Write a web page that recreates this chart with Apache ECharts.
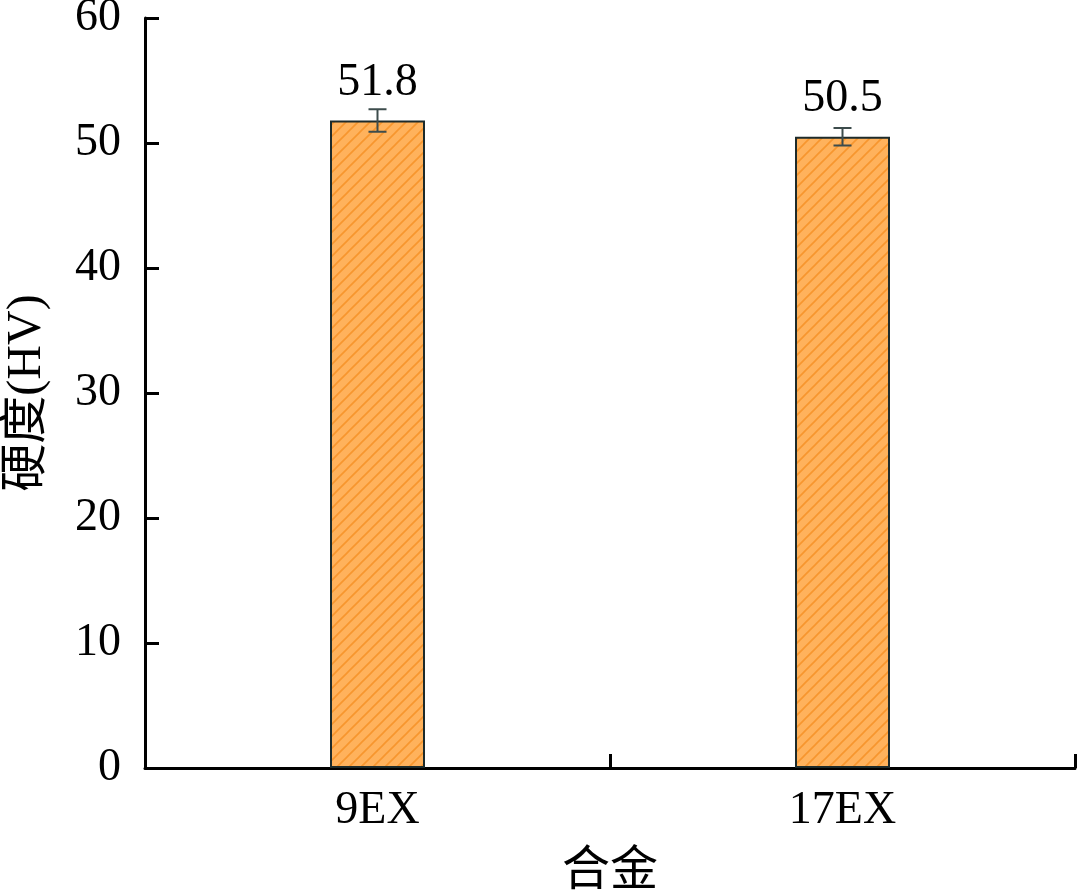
<!DOCTYPE html>
<html><head><meta charset="utf-8">
<script src="https://cdn.jsdelivr.net/npm/echarts@6/dist/echarts.min.js"></script>
<style>html,body{margin:0;padding:0;background:#fff}#c{width:1078px;height:895px}</style>
</head><body><div id="c"></div>
<script>
const categories = ['9EX', '17EX'];
const hardness = [51.8, 50.5];
const errors = [0.9, 0.7];
const yTicks = [0, 10, 20, 30, 40, 50, 60];

const pc = document.createElement('canvas');
pc.width = 12; pc.height = 12;
const g = pc.getContext('2d');
g.fillStyle = '#FFB25C'; g.fillRect(0,0,12,12);
g.strokeStyle = '#F7962E'; g.lineWidth = 1.6;
g.beginPath();
g.moveTo(-1,13); g.lineTo(13,-1);
g.moveTo(-7,7); g.lineTo(7,-7);
g.moveTo(5,19); g.lineTo(19,5);
g.stroke();

const font = 'Times New Roman, Liberation Serif, serif';
const cjkFont = 'Times New Roman, Liberation Serif, Noto Sans CJK SC';
const chart = echarts.init(document.getElementById('c'));
chart.setOption({
  animation: false,
  grid: {left: 145, top: 18, right: 3, bottom: 127, containLabel: false, outerBoundsMode: 'none'},
  xAxis: {
    type: 'category', data: categories,
    name: '合金', nameLocation: 'middle', nameGap: 80,
    nameTextStyle: {fontFamily: cjkFont, fontSize: 48, color: '#000'},
    axisLine: {lineStyle: {color: '#000', width: 3}},
    axisTick: {show: true, inside: true, length: 14, lineStyle: {color: '#000', width: 3}},
    axisLabel: {fontFamily: font, fontSize: 46, color: '#000', margin: 20}
  },
  yAxis: {
    type: 'value', min: yTicks[0], max: yTicks[yTicks.length-1], interval: 10,
    name: '硬度(HV)', nameLocation: 'middle', nameGap: 94,
    nameTextStyle: {fontFamily: cjkFont, fontSize: 48, color: '#000'},
    axisLine: {show: true, lineStyle: {color: '#000', width: 3}},
    axisTick: {show: true, inside: true, length: 14, lineStyle: {color: '#000', width: 3}},
    axisLabel: {fontFamily: font, fontSize: 46, color: '#000', margin: 24},
    splitLine: {show: false}
  },
  series: [
    {
      type: 'bar', data: hardness, barWidth: 95,
      itemStyle: {color: {image: pc, repeat: 'repeat'}, borderColor: '#1d2b2b', borderWidth: 2},
      label: {show: true, position: 'top', distance: 15, fontFamily: font, fontSize: 46, color: '#000',
        formatter: p => p.value.toFixed(1)}
    },
    {
      type: 'custom',
      data: hardness.map((v, i) => [i, v, errors[i]]),
      renderItem: (params, api) => {
        const x = api.value(0), v = api.value(1), e = api.value(2);
        const top = api.coord([x, v + e]);
        const bot = api.coord([x, v - e]);
        const hw = 9;
        const style = {stroke: '#3d4c4c', lineWidth: 2};
        return {type: 'group', children: [
          {type: 'line', shape: {x1: top[0], y1: top[1], x2: bot[0], y2: bot[1]}, style},
          {type: 'line', shape: {x1: top[0]-hw, y1: top[1], x2: top[0]+hw, y2: top[1]}, style},
          {type: 'line', shape: {x1: bot[0]-hw, y1: bot[1], x2: bot[0]+hw, y2: bot[1]}, style}
        ]};
      },
      z: 5
    }
  ]
});
</script></body></html>
